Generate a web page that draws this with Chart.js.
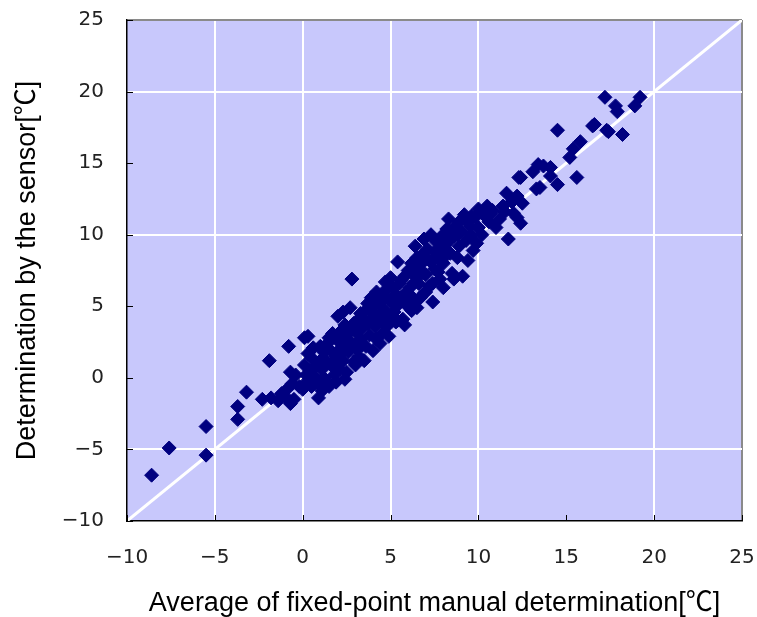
<!DOCTYPE html>
<html>
<head>
<meta charset="utf-8">
<script src="https://cdn.jsdelivr.net/npm/chart.js@4"></script>
<style>
body{margin:0;background:#fff}
</style>
</head>
<body>
<canvas id="sensorChart" width="757" height="617"></canvas>
<script>

// manual average (x) and sensor reading (y)
let manualAvg=[-8.6,-7.6,-5.5,-5.5,-3.7,-3.7,-3.2,-1.9,-0.8,0.1,0.3,-2.3,-1.8,-1.4,-1.0,-0.7,-0.5,-0.9,-0.6,-0.4,-0.7,-1.2,
0.0,0.2,0.4,0.1,0.5,0.7,0.9,0.9,1.1,1.2,1.3,1.5,1.6,1.4,0.6,0.3,1.8,1.9,2.0,1.7,0.8,1.0,0.5,1.2,1.6,
2.1,2.3,2.2,2.5,2.4,2.6,2.8,2.9,3.0,3.1,3.3,3.2,3.4,3.5,3.6,3.8,3.7,3.9,4.0,4.1,2.0,2.3,2.7,2.8,4.2,3.0,2.5,3.5,2.2,2.9,3.3,4.0,
4.3,4.4,4.5,4.6,4.7,4.8,4.9,5.0,5.1,5.2,5.3,5.4,5.5,5.6,5.7,5.8,5.9,6.0,4.5,5.0,5.3,5.8,4.2,4.9,6.0,
6.1,6.2,6.3,6.4,6.5,6.6,6.7,6.8,6.9,7.0,7.1,7.2,7.3,7.4,7.5,7.6,7.7,7.8,7.9,8.0,6.4,6.9,7.3,8.0,7.7,6.2,
8.1,8.2,8.3,8.4,8.5,8.6,8.7,8.8,8.9,9.0,9.1,9.2,9.3,9.4,9.5,9.6,9.7,9.8,9.9,10.0,8.6,
10.2,10.3,10.6,10.7,10.8,11.0,11.2,11.4,11.6,11.7,11.9,12.0,12.0,12.2,12.3,12.4,12.5,12.2,11.5,10.5,10.0,9.6,
13.1,13.3,13.4,13.7,14.1,14.1,14.5,14.5,15.2,15.4,15.6,15.8,16.5,16.6,17.2,17.3,17.4,17.8,17.9,18.2,18.9,19.2,12.4,13.5,
1.4,2.7,3.6,4.4,5.5,6.1,6.8,7.5,8.3,8.9,2.0,3.9,5.0,6.5,7.0,0.2,-0.2,2.6,4.7,8.4,
1.0,1.5,2.1,2.4,3.1,3.4,3.7,4.1,4.6,4.3,5.2,5.6,5.9,6.3,6.6,7.1,7.9,8.2,8.8,9.4,0.6,1.1,1.9,2.4,4.4,5.4,6.7,7.4]

let sensor=[-6.8,-4.9,-5.4,-3.4,-2.9,-2.0,-1.0,1.2,2.2,2.8,2.9,-1.5,-1.4,-1.6,-1.3,-1.8,-1.5,-0.8,-0.4,0.2,0.4,-1.1,
-0.8,-0.3,0.5,0.9,1.4,0.1,-0.4,-1.4,0.6,1.8,-0.2,-0.6,0.9,2.4,2.1,1.7,0.2,1.5,2.6,3.1,0.9,1.2,-0.6,0.0,1.9,
0.6,1.2,2.1,3.0,3.7,1.8,2.4,1.1,3.2,4.0,2.7,1.5,3.5,4.6,2.2,3.0,5.2,4.1,1.9,3.6,4.3,4.6,4.9,6.9,2.7,0.9,0.4,1.2,3.3,3.8,4.5,4.9,
4.3,5.2,3.1,6.0,4.7,3.6,5.5,4.2,6.3,5.1,3.9,8.1,6.6,5.6,4.1,7.1,6.0,5.0,5.4,7.0,5.8,3.7,6.0,2.9,7.5,
6.3,8.0,5.5,7.1,4.9,6.6,7.9,8.6,5.9,7.2,9.0,6.4,8.1,5.3,7.6,9.5,8.5,6.9,9.9,8.0,9.2,9.7,10.0,6.3,7.4,4.7,
9.3,10.4,11.1,8.7,7.3,9.9,10.6,8.4,9.2,10.2,7.1,11.4,9.6,8.2,10.6,10.0,8.9,11.2,9.4,10.5,6.9,
10.0,11.4,10.9,11.5,11.7,10.5,11.1,12.0,12.9,9.7,12.3,11.5,12.4,12.7,14.0,10.8,12.2,11.2,11.6,12.0,11.8,11.3,
14.4,13.2,14.9,14.8,14.7,14.1,13.5,17.3,15.4,16.0,14.0,16.5,17.6,17.7,19.6,17.3,17.2,19.0,18.6,17.0,19.0,19.6,14.0,13.3,
1.1,3.4,3.9,4.0,5.2,5.8,7.3,8.8,9.5,10.9,1.0,5.6,5.4,8.4,6.0,0.2,-0.6,2.6,6.7,10.2,
2.2,2.8,1.6,2.7,2.0,2.3,3.8,4.4,3.9,5.6,4.6,6.8,5.1,6.6,7.7,8.3,8.9,8.6,10.0,10.9,-0.2,-0.9,-0.3,-0.1,2.4,4.0,5.6,6.6]

let tickValues=[-10,-5,0,5,10,15,20,25]
let xGridAt=[-5,0,5,10,20]
let yGridAt=[-5,10,20]
let lineEnds=[-10,25]

let points=manualAvg.map((v,i)=>({x:v,y:sensor[i]}))
let oneToOne=lineEnds.map(v=>({x:v,y:v}))

let plotBg={
id:"plotBg",
beforeDraw(chart){
let a=chart.chartArea
let ctx=chart.ctx
ctx.save()
ctx.fillStyle="#c8c8fc"
ctx.fillRect(a.left,a.top,a.right-a.left,a.bottom-a.top)
ctx.restore()
}
}

// tick marks point into the plot in the original
let innerTicks={
id:"innerTicks",
afterDraw(chart){
let ctx=chart.ctx
let a=chart.chartArea
let xs=chart.scales.x
let ys=chart.scales.y
ctx.save()
ctx.strokeStyle="#000"
ctx.lineWidth=1
ctx.beginPath()
xs.ticks.forEach(t=>{
let px=Math.round(xs.getPixelForValue(t.value))+0.5
ctx.moveTo(px,a.bottom)
ctx.lineTo(px,a.bottom-6)
})
ys.ticks.forEach(t=>{
let py=Math.round(ys.getPixelForValue(t.value))+0.5
ctx.moveTo(a.left,py)
ctx.lineTo(a.left+6,py)
})
ctx.stroke()
ctx.restore()
}
}

function gridColor(list){
return c=>{
if(c.tick.value===25) return "#8a8a8a"
if(list.includes(c.tick.value)) return "#ffffff"
return "rgba(0,0,0,0)"
}
}

function tickLabel(v){
return String(v).replace("-","\u2212")
}

// drop the extra room chart.js keeps for edge labels
function noEdgePad(s){
s.paddingTop=0
s.paddingBottom=0
s.paddingLeft=0
s.paddingRight=0
}

let tickFont={family:"DejaVu Sans",size:20}
let titleFont={family:"Liberation Sans, Noto Sans CJK JP",size:27}

new Chart(document.getElementById("sensorChart"),{

type:"scatter",

data:{
datasets:[{
data:points,
pointStyle:"rectRot",
pointRadius:7,
pointBorderWidth:1,
backgroundColor:"#000080",
borderColor:"#000080"
},{
type:"line",
data:oneToOne,
borderColor:"#ffffff",
borderWidth:3,
pointRadius:0,
showLine:true
}]
},

options:{
responsive:false,
animation:false,
layout:{padding:{top:20,right:15,left:0,bottom:0}},
plugins:{legend:{display:false},tooltip:{enabled:false}},
scales:{
x:{
type:"linear",
min:-10,
max:25,
afterBuildTicks:s=>{s.ticks=tickValues.map(v=>({value:v}))},
afterFit:s=>{s.height=96;noEdgePad(s)},
grid:{color:gridColor(xGridAt),lineWidth:2,drawTicks:false},
border:{color:"#000",width:1.5},
ticks:{font:tickFont,color:"#222",padding:25,callback:tickLabel,maxRotation:0},
title:{display:true,text:"Average of fixed-point manual determination[\u2103]",font:titleFont,color:"#000",padding:{top:0,bottom:-3}}
},
y:{
type:"linear",
min:-10,
max:25,
afterBuildTicks:s=>{s.ticks=tickValues.map(v=>({value:v}))},
afterFit:s=>{s.width=127;noEdgePad(s)},
grid:{color:gridColor(yGridAt),lineWidth:2,drawTicks:false},
border:{color:"#000",width:1.5},
ticks:{font:tickFont,color:"#222",padding:23,callback:tickLabel},
title:{display:true,text:"Determination by the sensor[\u2103]",font:titleFont,color:"#000",padding:{top:11,bottom:0}}
}
}
},

plugins:[plotBg,innerTicks]

})

</script>
</body>
</html>
